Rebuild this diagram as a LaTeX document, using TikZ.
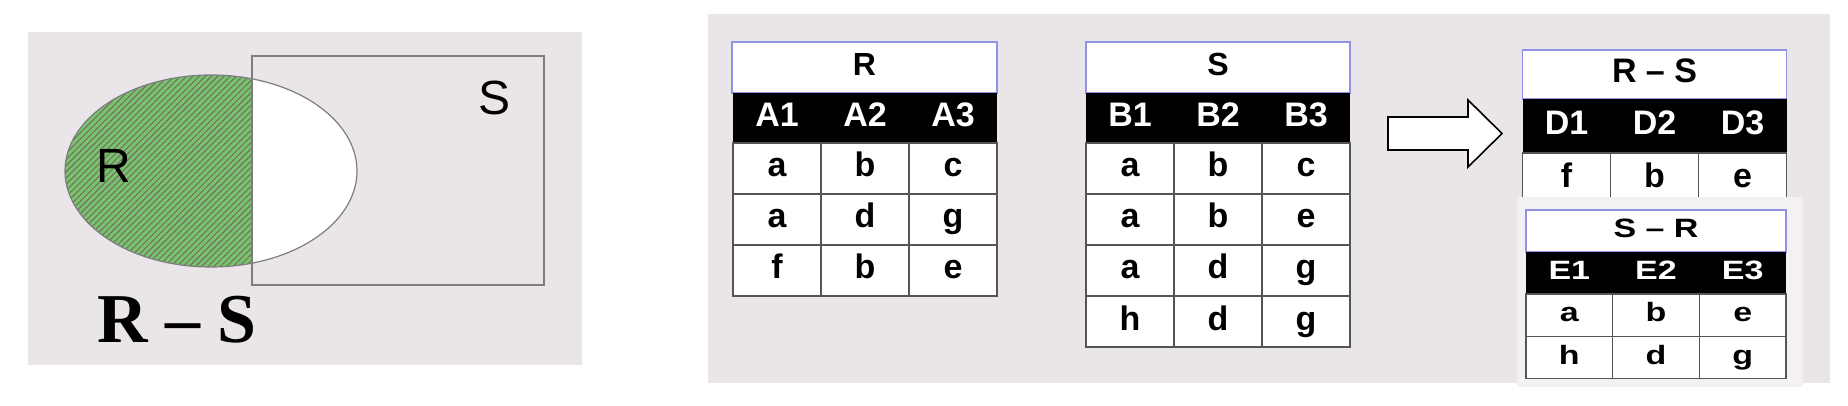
\documentclass[tikz,border=0pt]{standalone}
\usepackage{fontspec}
\setmainfont{Liberation Serif}
\setsansfont{Liberation Sans}
\usetikzlibrary{patterns.meta}

\definecolor{panelbg}{RGB}{234,229,233}
\definecolor{insetbg}{RGB}{243,241,243}
\definecolor{vennline}{RGB}{125,125,125}
\definecolor{hatchgreen}{RGB}{118,196,112}
\definecolor{hatchdark}{RGB}{120,112,92}
\definecolor{titleline}{RGB}{145,145,230}
\definecolor{gridline}{RGB}{85,85,85}

\begin{document}
\begin{tikzpicture}[x=0.5pt, y=-0.5pt,
    tabtitle/.style={draw=titleline, fill=white, line width=0.7pt, inner sep=0pt,
        minimum height=25.5pt, text height=0.85em, text depth=0pt,
        font=\sffamily\bfseries\fontsize{16pt}{16pt}\selectfont},
    tabhead/.style={fill=black, text=white, inner sep=0pt, minimum width=44pt,
        minimum height=25pt, text height=0.85em, text depth=0pt,
        font=\sffamily\bfseries\fontsize{17pt}{17pt}\selectfont},
    tabcell/.style={draw=gridline, fill=white, line width=0.8pt, inner sep=0pt,
        minimum width=44pt, minimum height=25.5pt, text height=0.85em, text depth=0pt,
        font=\sffamily\bfseries\fontsize{17pt}{17pt}\selectfont},
    venntext/.style={anchor=base, inner sep=0pt, font=\sffamily\fontsize{24pt}{24pt}\selectfont}]

    \useasboundingbox (0,0) rectangle (1848,406);
    \fill[white] (0,0) rectangle (1848,406);

    \fill[panelbg] (28,32) rectangle (582,365);
    \begin{scope}
        \clip (0,0) rectangle (252,406);
        \fill[hatchgreen] (211,171) ellipse [x radius=73pt, y radius=48pt];
        \fill[pattern={Lines[angle=45, distance=2.2pt, line width=0.55pt]}, pattern color=hatchdark]
            (211,171) ellipse [x radius=73pt, y radius=48pt];
    \end{scope}
    \begin{scope}
        \clip (252,0) rectangle (600,406);
        \fill[white] (211,171) ellipse [x radius=73pt, y radius=48pt];
    \end{scope}
    \draw[vennline, line width=0.6pt] (211,171) ellipse [x radius=73pt, y radius=48pt];
    \draw[vennline, line width=1pt] (252,56) rectangle (544,285);

    \node[venntext] (labR) at (114,183) {R};
    \node[venntext] (labS) at (495,115) {S};
    \node[anchor=base, inner sep=0pt, font=\rmfamily\bfseries\fontsize{35pt}{35pt}\selectfont] (diff) at (177,343) {R – S};

    \fill[panelbg] (708,14) rectangle (1830,383);

    \node[tabtitle, minimum width=132.5pt] (rT) at (864.5,67.5) {R};
    \node[tabhead] (rA1) at (777,118) {A1};
    \node[tabhead] (rA2) at (865,118) {A2};
    \node[tabhead] (rA3) at (953,118) {A3};
    \node[tabcell] (r11) at (777,168.5) {a};
    \node[tabcell] (r12) at (865,168.5) {b};
    \node[tabcell] (r13) at (953,168.5) {c};
    \node[tabcell] (r21) at (777,219.5) {a};
    \node[tabcell] (r22) at (865,219.5) {d};
    \node[tabcell] (r23) at (953,219.5) {g};
    \node[tabcell] (r31) at (777,270.5) {f};
    \node[tabcell] (r32) at (865,270.5) {b};
    \node[tabcell] (r33) at (953,270.5) {e};

    \node[tabtitle, minimum width=132pt] (sT) at (1218,67.5) {S};
    \node[tabhead] (sB1) at (1130,118) {B1};
    \node[tabhead] (sB2) at (1218,118) {B2};
    \node[tabhead] (sB3) at (1306,118) {B3};
    \node[tabcell] (s11) at (1130,168.5) {a};
    \node[tabcell] (s12) at (1218,168.5) {b};
    \node[tabcell] (s13) at (1306,168.5) {c};
    \node[tabcell] (s21) at (1130,219.5) {a};
    \node[tabcell] (s22) at (1218,219.5) {b};
    \node[tabcell] (s23) at (1306,219.5) {e};
    \node[tabcell] (s31) at (1130,270.5) {a};
    \node[tabcell] (s32) at (1218,270.5) {d};
    \node[tabcell] (s33) at (1306,270.5) {g};
    \node[tabcell] (s41) at (1130,321.5) {h};
    \node[tabcell] (s42) at (1218,321.5) {d};
    \node[tabcell] (s43) at (1306,321.5) {g};

    \draw[line width=0.8pt, fill=white] (1388,117) -- (1468,117) -- (1468,100) -- (1502,133.5)
        -- (1468,167) -- (1468,150) -- (1388,150) -- cycle;

    \node[tabtitle, minimum width=132pt, minimum height=24.5pt,
        font=\sffamily\bfseries\fontsize{17pt}{17pt}\selectfont] (dT) at (1654.5,74.5) {R – S};
    \node[tabhead, minimum height=27pt] (dD1) at (1566.5,126) {D1};
    \node[tabhead, minimum height=27pt] (dD2) at (1654.5,126) {D2};
    \node[tabhead, minimum height=27pt] (dD3) at (1742.5,126) {D3};
    \node[tabcell, minimum height=26pt] (d11) at (1566.5,179) {f};
    \node[tabcell, minimum height=26pt] (d12) at (1654.5,179) {b};
    \node[tabcell, minimum height=26pt] (d13) at (1742.5,179) {e};

    \fill[insetbg] (1517,197) rectangle (1803,387);

    \begin{scope}[shift={(0,210)}, yscale=0.78, transform shape]
        \node[tabtitle, minimum width=130pt, minimum height=27pt,
            font=\sffamily\bfseries\fontsize{17pt}{17pt}\selectfont] (eT) at (1656,27) {S – R};
        \node[tabhead, minimum width=43.33pt, minimum height=27pt] (eE1) at (1569.3,81) {E1};
        \node[tabhead, minimum width=43.33pt, minimum height=27pt] (eE2) at (1656,81) {E2};
        \node[tabhead, minimum width=43.33pt, minimum height=27pt] (eE3) at (1742.7,81) {E3};
        \node[tabcell, minimum width=43.33pt, minimum height=27pt] (e11) at (1569.3,135) {a};
        \node[tabcell, minimum width=43.33pt, minimum height=27pt] (e12) at (1656,135) {b};
        \node[tabcell, minimum width=43.33pt, minimum height=27pt] (e13) at (1742.7,135) {e};
        \node[tabcell, minimum width=43.33pt, minimum height=27pt] (e21) at (1569.3,189) {h};
        \node[tabcell, minimum width=43.33pt, minimum height=27pt] (e22) at (1656,189) {d};
        \node[tabcell, minimum width=43.33pt, minimum height=27pt] (e23) at (1742.7,189) {g};
    \end{scope}
\end{tikzpicture}
\end{document}
